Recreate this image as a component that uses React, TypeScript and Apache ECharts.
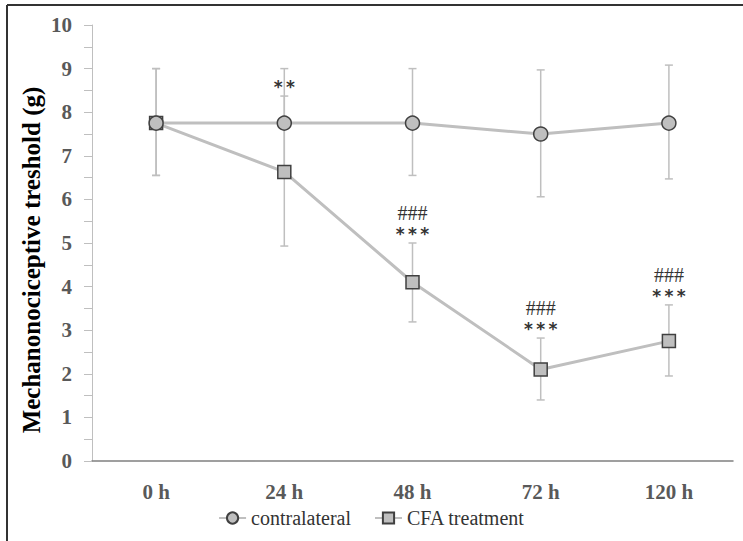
import React, { useEffect, useRef } from "react";
import * as echarts from "echarts";

// Time points after injection
const categories = ["0 h", "24 h", "48 h", "72 h", "120 h"];

// Mean withdrawal thresholds (g)
const contralateralMean = [7.75, 7.75, 7.75, 7.5, 7.75];
const cfaMean = [7.75, 6.63, 4.1, 2.1, 2.75];

// Error bar limits (g)
const contralateralLow = [6.55, 6.5, 6.55, 6.06, 6.47];
const contralateralHigh = [9.0, 9.0, 9.0, 8.97, 9.08];
const cfaLow = [6.55, 4.93, 3.19, 1.4, 1.95];
const cfaHigh = [9.0, 8.37, 5.0, 2.82, 3.58];

// Significance marks above the CFA error bars
const stars = ["", "**", "***", "***", "***"];
const hashes = ["", "", "###", "###", "###"];

const yAxisTitle = "Mechanonociceptive treshold (g)";

const SERIF = "Liberation Serif";
const LINE_GRAY = "#bfbfbf";
const MARK_FILL = "#bfbfbf";
const MARK_BORDER = "#404040";

function errorData(low: number[], high: number[]) {
  return categories.map((_, i) => [i, low[i], high[i]]);
}

function errorRender(params: any, api: any) {
  const x = api.value(0);
  const lo = api.coord([x, api.value(1)]);
  const hi = api.coord([x, api.value(2)]);
  const cap = 4;
  const style = { stroke: LINE_GRAY, lineWidth: 1.5 };
  return {
    type: "group",
    children: [
      { type: "line", shape: { x1: hi[0], y1: hi[1], x2: lo[0], y2: lo[1] }, style },
      { type: "line", shape: { x1: hi[0] - cap, y1: hi[1], x2: hi[0] + cap, y2: hi[1] }, style },
      { type: "line", shape: { x1: lo[0] - cap, y1: lo[1], x2: lo[0] + cap, y2: lo[1] }, style },
    ],
  };
}

function markRender(params: any, api: any) {
  const i = params.dataIndex;
  const x = api.value(0);
  const hi = api.coord([x, api.value(1)]);
  const children: any[] = [];
  if (stars[i]) {
    children.push({
      type: "text",
      x: hi[0],
      y: hi[1] - 9,
      style: {
        text: stars[i].split("").join("\u2009"),
        fontFamily: "DejaVu Sans",
        fontWeight: "bold",
        fontSize: 17,
        fill: "#333333",
        align: "center",
        verticalAlign: "middle",
      },
    });
  }
  if (hashes[i]) {
    children.push({
      type: "text",
      x: hi[0],
      y: hi[1] - 30,
      style: {
        text: hashes[i],
        fontFamily: SERIF,
        fontSize: 20,
        fill: "#333333",
        align: "center",
        verticalAlign: "middle",
      },
    });
  }
  return { type: "group", children };
}

export default function App() {
  const ref = useRef<HTMLDivElement>(null);

  useEffect(() => {
    document.body.style.margin = "0";
    if (!ref.current) return;
    const chart = echarts.init(ref.current, null, { renderer: "svg" });
    chart.setOption({
      animation: false,
      backgroundColor: "#ffffff",
      grid: { left: 92, right: 10, top: 25, bottom: 80 },
      legend: {
        bottom: 8,
        left: "center",
        itemWidth: 27,
        itemHeight: 14,
        itemGap: 23,
        textStyle: { fontFamily: SERIF, fontSize: 20, color: "#333333" },
        data: ["contralateral", "CFA treatment"],
      },
      xAxis: {
        type: "category",
        data: categories,
        boundaryGap: true,
        axisLine: { lineStyle: { color: "#808080", width: 1.5 } },
        axisTick: { show: false },
        axisLabel: {
          margin: 20,
          fontFamily: SERIF,
          fontWeight: "bold",
          fontSize: 21,
          color: "#595959",
        },
      },
      yAxis: {
        type: "value",
        min: 0,
        max: 10,
        interval: 1,
        axisLine: { show: true, lineStyle: { color: LINE_GRAY, width: 1 } },
        axisTick: { show: true, length: 8, lineStyle: { color: LINE_GRAY } },
        minorTick: { show: true, splitNumber: 2, length: 8, lineStyle: { color: LINE_GRAY } },
        splitLine: { show: false },
        axisLabel: {
          margin: 20,
          fontFamily: SERIF,
          fontWeight: "bold",
          fontSize: 21,
          color: "#595959",
        },
      },
      graphic: [
        { type: "line", shape: { x1: 7, y1: 5, x2: 743, y2: 5 }, style: { stroke: "#333333", lineWidth: 2 } },
        { type: "line", shape: { x1: 7, y1: 5, x2: 7, y2: 541 }, style: { stroke: "#333333", lineWidth: 2 } },
        {
          type: "text",
          x: 31,
          y: 260,
          rotation: Math.PI / 2,
          style: {
            text: yAxisTitle,
            fontFamily: SERIF,
            fontWeight: "bold",
            fontSize: 25,
            fill: "#000000",
            align: "center",
            verticalAlign: "middle",
          },
        },
      ],
      series: [
        {
          type: "custom",
          name: "contralateral-err",
          z: 1,
          renderItem: errorRender,
          encode: { x: 0, y: [1, 2] },
          data: errorData(contralateralLow, contralateralHigh),
          silent: true,
        },
        {
          type: "custom",
          name: "cfa-err",
          z: 1,
          renderItem: errorRender,
          encode: { x: 0, y: [1, 2] },
          data: errorData(cfaLow, cfaHigh),
          silent: true,
        },
        {
          type: "line",
          name: "CFA treatment",
          data: cfaMean,
          z: 3,
          symbol: "rect",
          symbolSize: 13,
          lineStyle: { color: LINE_GRAY, width: 3 },
          itemStyle: { color: MARK_FILL, borderColor: MARK_BORDER, borderWidth: 1.5 },
        },
        {
          type: "line",
          name: "contralateral",
          data: contralateralMean,
          z: 4,
          symbol: "circle",
          symbolSize: 14,
          lineStyle: { color: LINE_GRAY, width: 3 },
          itemStyle: { color: MARK_FILL, borderColor: MARK_BORDER, borderWidth: 1.5 },
        },
        {
          type: "custom",
          name: "significance",
          z: 5,
          renderItem: markRender,
          encode: { x: 0, y: 1 },
          data: categories.map((_, i) => [i, cfaHigh[i]]),
          silent: true,
        },
      ],
    });
    return () => chart.dispose();
  }, []);

  return <div ref={ref} style={{ width: 743, height: 541 }} />;
}
